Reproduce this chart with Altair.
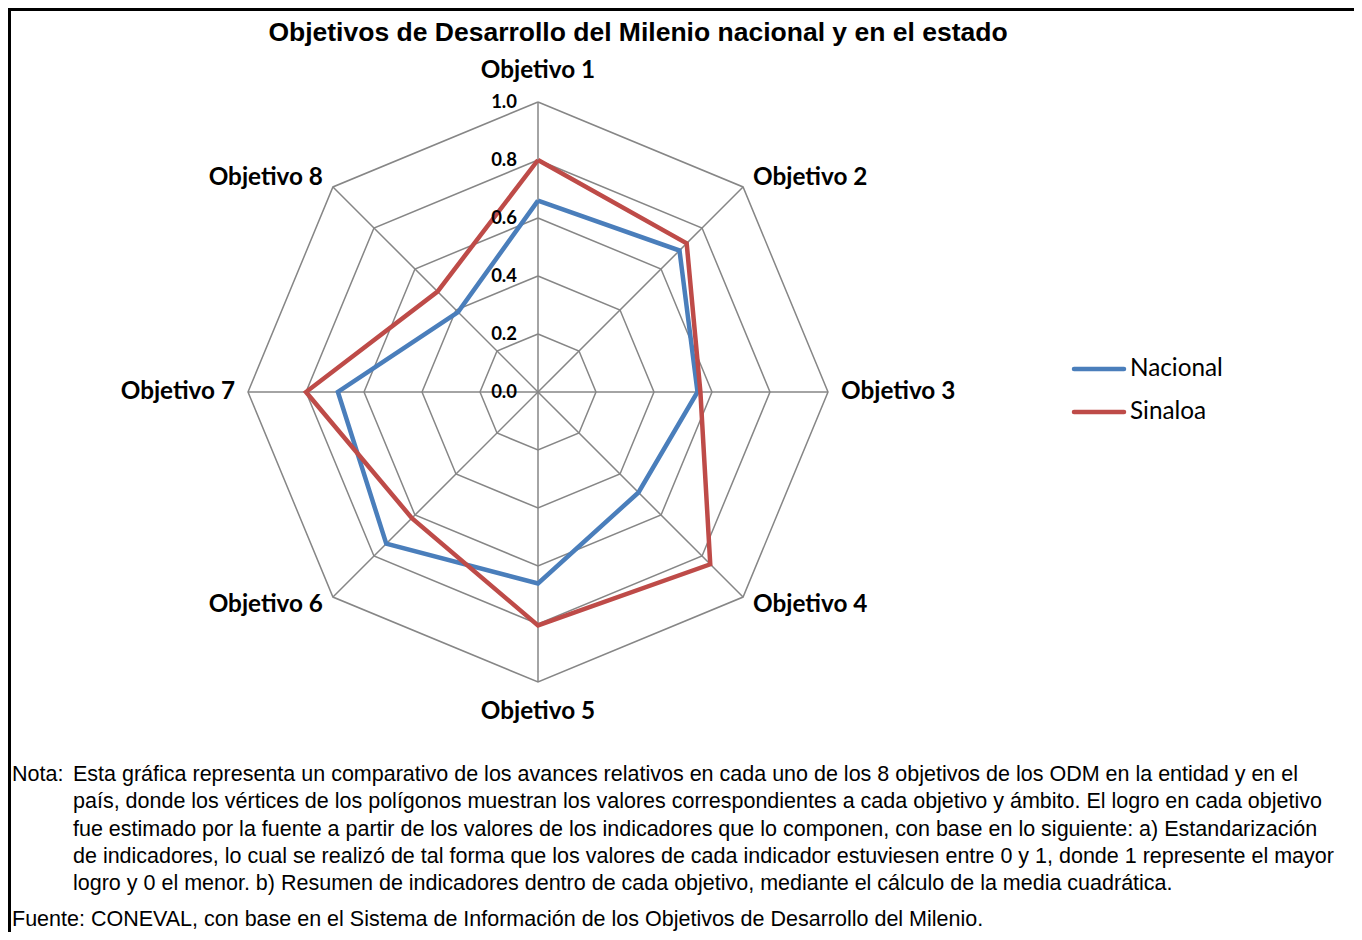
import altair as alt
import pandas as pd

# ---------------- data ----------------
objetivos = ["Objetivo 1", "Objetivo 2", "Objetivo 3", "Objetivo 4",
             "Objetivo 5", "Objetivo 6", "Objetivo 7", "Objetivo 8"]
nacional = [0.66, 0.69, 0.55, 0.49, 0.66, 0.74, 0.69, 0.39]
sinaloa = [0.80, 0.725, 0.56, 0.84, 0.805, 0.615, 0.80, 0.49]
series = ["Nacional", "Sinaloa"]
colores = ["#4A7EBB", "#BE4B48"]
niveles = [0.2, 0.4, 0.6, 0.8, 1.0]
ticks = [0.0, 0.2, 0.4, 0.6, 0.8, 1.0]
tick_labels = ["0.0", "0.2", "0.4", "0.6", "0.8", "1.0"]

titulo = "Objetivos de Desarrollo del Milenio nacional y en el estado"
nota_label = "Nota:"
nota_lineas = [
    "Esta gráfica representa un comparativo de los avances relativos en cada uno de los 8 objetivos de los ODM en la entidad y en el",
    "país, donde los vértices de los polígonos muestran los valores correspondientes a cada objetivo y ámbito. El logro en cada objetivo",
    "fue estimado por la fuente a partir de los valores de los indicadores que lo componen, con base en lo siguiente: a) Estandarización",
    "de indicadores, lo cual se realizó de tal forma que los valores de cada indicador estuviesen entre 0 y 1, donde 1 represente el mayor",
    "logro y 0 el menor. b) Resumen de indicadores dentro de cada objetivo, mediante el cálculo de la media cuadrática.",
]
fuente = "Fuente: CONEVAL, con base en el Sistema de Información de los Objetivos de Desarrollo del Milenio."

# ---------------- layout ----------------
W, H = 1346, 924
CX, CY, R = 530, 384, 290  # center in plot px and px per unit
xdom = [-CX / R, (W - CX) / R]
ydom = [-(H - CY) / R, CY / R]
N = len(objetivos)
NOTE_FONT = 21.5

def xs():
    return alt.Scale(domain=xdom, nice=False, zero=False)

def ys():
    return alt.Scale(domain=ydom, nice=False, zero=False)

ANG = "datum.idx * 2 * PI / %d" % N

# tables built from lists
rows = []
for s, vals in zip(series, [nacional, sinaloa]):
    for i in range(N + 1):
        rows.append({"serie": s, "idx": i, "valor": vals[i % N], "objetivo": objetivos[i % N]})
df_series = pd.DataFrame(rows)

df_grid = pd.DataFrame([{"nivel": l, "idx": i} for l in niveles for i in range(N + 1)])
df_spokes = pd.DataFrame({"idx": list(range(N)), "objetivo": objetivos})
df_ticks = pd.DataFrame({"valor": ticks, "label": tick_labels})
one = pd.DataFrame({"a": [0]})

grid = alt.Chart(df_grid).mark_line(color="#868686", strokeWidth=1.5).transform_calculate(
    x="datum.nivel * sin(%s)" % ANG, y="datum.nivel * cos(%s)" % ANG
).encode(
    x=alt.X("x:Q", scale=xs(), axis=None),
    y=alt.Y("y:Q", scale=ys(), axis=None),
    detail="nivel:N",
    order="idx:Q",
)

spokes = alt.Chart(df_spokes).mark_rule(color="#868686", strokeWidth=1.5).transform_calculate(
    x0="0", y0="0", x1="sin(%s)" % ANG, y1="cos(%s)" % ANG
).encode(
    x=alt.X("x0:Q", scale=xs(), axis=None),
    y=alt.Y("y0:Q", scale=ys(), axis=None),
    x2="x1:Q",
    y2="y1:Q",
)

lines = []
for s, c in zip(series, colores):
    lines.append(
        alt.Chart(df_series).transform_filter(alt.datum.serie == s).mark_line(
            color=c, strokeWidth=4.5, strokeJoin="miter"
        ).transform_calculate(
            x="datum.valor * sin(%s)" % ANG, y="datum.valor * cos(%s)" % ANG
        ).encode(
            x=alt.X("x:Q", scale=xs(), axis=None),
            y=alt.Y("y:Q", scale=ys(), axis=None),
            order="idx:Q",
        )
    )

tick_text = alt.Chart(df_ticks).mark_text(
    align="right", baseline="middle", dx=-21, font="Lato", fontWeight="bold", fontSize=18.5, color="black"
).transform_calculate(x0="0").encode(
    x=alt.X("x0:Q", scale=xs(), axis=None),
    y=alt.Y("valor:Q", scale=ys(), axis=None),
    text="label:N",
)

label_pos = [
    ("center", 0, -31), ("left", 10, -9), ("left", 13, 0), ("left", 10, 8),
    ("center", 0, 30), ("right", -10, 8), ("right", -13, 0), ("right", -10, -9),
]
labels = []
for i, (al, dx, dy) in enumerate(label_pos):
    labels.append(
        alt.Chart(df_spokes).transform_filter(alt.datum.idx == i).transform_calculate(
            x1="sin(%s)" % ANG, y1="cos(%s)" % ANG
        ).mark_text(
            align=al, baseline="middle", dx=dx, dy=dy, font="Lato", fontWeight="bold", fontSize=24.3, color="black"
        ).encode(
            x=alt.X("x1:Q", scale=xs(), axis=None),
            y=alt.Y("y1:Q", scale=ys(), axis=None),
            text="objetivo:N",
        )
    )

title = alt.Chart(one).mark_text(
    align="center", baseline="middle", font="Liberation Sans", fontWeight="bold", fontSize=26.5, color="black"
).encode(x=alt.value(630), y=alt.value(25), text=alt.value(titulo))

legend = []
for k, (s, c) in enumerate(zip(series, colores)):
    yy = 361 + k * 43
    legend.append(alt.Chart(one).mark_rule(color=c, strokeWidth=4.5, strokeCap="round").encode(
        x=alt.value(1066), x2=alt.value(1116), y=alt.value(yy)))
    legend.append(alt.Chart(one).mark_text(
        align="left", baseline="middle", font="Lato", fontSize=24.3, color="black"
    ).encode(x=alt.value(1122), y=alt.value(yy), text=alt.value(s)))

notes = [alt.Chart(one).mark_text(
    align="left", baseline="middle", font="Liberation Sans", fontSize=NOTE_FONT, color="black"
).encode(x=alt.value(4), y=alt.value(767), text=alt.value(nota_label))]
for j, t in enumerate(nota_lineas):
    notes.append(alt.Chart(one).mark_text(
        align="left", baseline="middle", font="Liberation Sans", fontSize=NOTE_FONT, color="black"
    ).encode(x=alt.value(65), y=alt.value(767 + j * 27.3), text=alt.value(t)))
notes.append(alt.Chart(one).mark_text(
    align="left", baseline="middle", font="Liberation Sans", fontSize=NOTE_FONT, color="black"
).encode(x=alt.value(4), y=alt.value(912), text=alt.value(fuente)))

border = [
    alt.Chart(one).mark_rule(color="black", strokeWidth=3).encode(
        x=alt.value(0), x2=alt.value(W), y=alt.value(1.5)),
    alt.Chart(one).mark_rule(color="black", strokeWidth=3).encode(
        x=alt.value(1.5), y=alt.value(0), y2=alt.value(H)),
]

chart = alt.layer(grid, spokes, *lines, tick_text, *labels, title, *legend, *notes, *border).properties(
    width=W, height=H, padding=0, autosize=alt.AutoSizeParams(type="none"), background="white"
).configure_view(stroke=None)

chart.save("out.html", embed_options={"renderer": "svg", "actions": False})
